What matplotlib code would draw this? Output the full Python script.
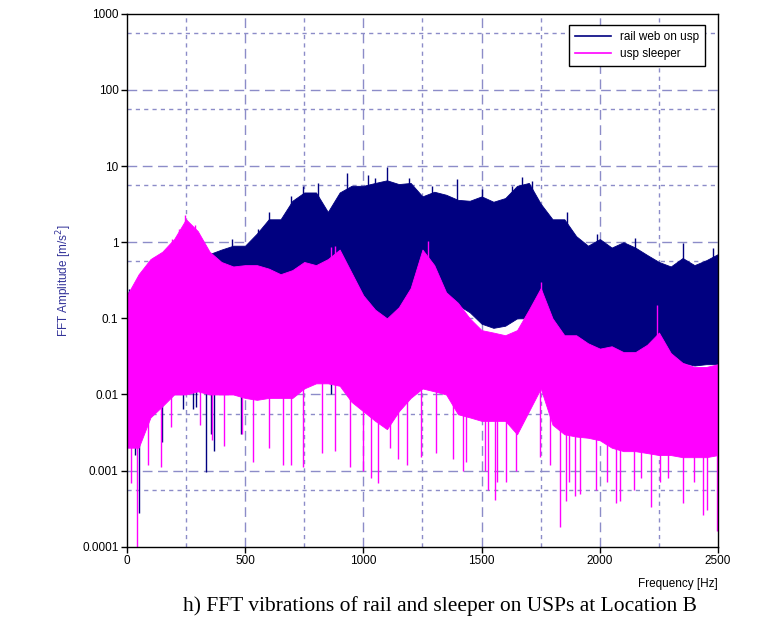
import numpy as np
import matplotlib
matplotlib.use("Agg")
import matplotlib.pyplot as plt

# ---------------- data ----------------
freq = list(range(0, 2501, 50))

rail_hi = [0.22, 0.2, 0.3, 0.4, 0.5, 0.6, 0.6, 0.7, 0.8, 0.9,
           0.9, 1.3, 2.0, 2.0, 3.5, 4.5, 4.5, 2.5, 4.5, 5.5,
           5.5, 6.0, 6.5, 5.8, 6.0, 4.0, 4.6, 4.2, 3.6, 3.5,
           4.0, 3.4, 3.8, 5.5, 6.0, 3.2, 2.0, 2.0, 1.2, 0.9,
           1.1, 0.85, 1.0, 0.85, 0.68, 0.55, 0.48, 0.62, 0.5, 0.58, 0.7]
rail_lo = [0.02, 0.01, 0.02, 0.03, 0.04, 0.05, 0.06, 0.08, 0.1, 0.15,
           0.2, 0.2, 0.22, 0.25, 0.22, 0.17, 0.15, 0.16, 0.15, 0.13,
           0.13, 0.11, 0.1, 0.12, 0.15, 0.18, 0.2, 0.18, 0.15, 0.12,
           0.085, 0.075, 0.08, 0.1, 0.1, 0.09, 0.085, 0.06, 0.05, 0.045,
           0.04, 0.04, 0.033, 0.032, 0.032, 0.03, 0.028, 0.026, 0.024, 0.025, 0.025]

sleeper_hi = [0.2, 0.38, 0.6, 0.75, 1.1, 2.0, 1.4, 0.75, 0.55, 0.48,
              0.5, 0.5, 0.45, 0.38, 0.43, 0.55, 0.5, 0.6, 0.8, 0.4,
              0.2, 0.13, 0.1, 0.14, 0.25, 0.8, 0.5, 0.22, 0.16, 0.1,
              0.07, 0.065, 0.06, 0.07, 0.13, 0.25, 0.1, 0.06, 0.06, 0.047,
              0.04, 0.043, 0.036, 0.036, 0.045, 0.065, 0.035, 0.026, 0.023, 0.023, 0.025]
sleeper_lo = [0.002, 0.002, 0.005, 0.007, 0.01, 0.01, 0.011, 0.01, 0.01, 0.01,
              0.009, 0.0085, 0.009, 0.009, 0.009, 0.012, 0.014, 0.014, 0.013, 0.008,
              0.006, 0.0045, 0.0035, 0.006, 0.009, 0.012, 0.011, 0.01, 0.0055, 0.005,
              0.0045, 0.0045, 0.0045, 0.003, 0.006, 0.012, 0.004, 0.003, 0.0028, 0.0027,
              0.0025, 0.002, 0.0018, 0.0018, 0.0017, 0.0016, 0.0016, 0.0015, 0.0015, 0.0015, 0.0016]

# individual spikes (frequency [Hz], amplitude)
rail_spike_f = [8, 30, 34, 53, 69, 150, 238, 278, 294, 334, 355, 367, 484, 527, 865,
                443, 556, 600, 696, 746, 809, 929, 1021, 1050, 1098, 1194, 1291,
                1395, 1500, 1629, 1670, 1713, 1860, 1990, 2147, 2352, 2480]
rail_spike_v = [0.24, 0.22, 0.0016, 0.00028, 0.0043, 0.0024, 0.0065, 0.0065, 0.0068,
                0.00096, 0.003, 0.0018, 0.003, 0.011, 0.01,
                1.1, 1.5, 2.5, 4.0, 5.5, 6.0, 8.0, 7.6, 7.0, 9.8, 7.0, 5.5,
                6.7, 5.0, 5.5, 7.1, 6.4, 2.5, 1.3, 1.15, 0.97, 0.85]

sleeper_spike_f = [18, 45, 90, 146, 186, 310, 359, 412, 487, 535, 600, 661, 696, 744,
                   825, 881, 945, 998, 1031, 1063, 1114, 1146, 1186, 1243, 1307, 1379,
                   1423, 1436, 1516, 1529, 1556, 1564, 1604, 1645, 1749, 1790, 1830,
                   1855, 1870, 1894, 1918, 1982, 2030, 2067, 2087, 2143, 2175, 2215,
                   2255, 2288, 2352, 2400, 2436, 2452, 2495,
                   116, 189, 221, 246, 288, 865, 881, 1272, 1750, 2242]
sleeper_spike_v = [0.00068, 0.0001, 0.0012, 0.0011, 0.0037, 0.004, 0.0025, 0.0021,
                   0.003, 0.0013, 0.002, 0.0012, 0.0012, 0.0011, 0.0017, 0.0018,
                   0.0011, 0.001, 0.0008, 0.00068, 0.002, 0.0014, 0.0012, 0.0015,
                   0.0017, 0.0014, 0.001, 0.0013, 0.001, 0.00055, 0.00041, 0.0007,
                   0.0007, 0.001, 0.0015, 0.0012, 0.00018, 0.0004, 0.0007, 0.00047,
                   0.0005, 0.00055, 0.0007, 0.00037, 0.0004, 0.00055, 0.0008, 0.00033,
                   0.0007, 0.0008, 0.00037, 0.0007, 0.00026, 0.0003, 0.00016,
                   0.63, 1.1, 1.5, 2.3, 1.7, 0.87, 0.9, 1.03, 0.3, 0.15]

x_ticks = [0, 500, 1000, 1500, 2000, 2500]
y_ticks = [0.0001, 0.001, 0.01, 0.1, 1, 10, 100, 1000]
y_tick_labels = ["0.0001", "0.001", "0.01", "0.1", "1", "10", "100", "1000"]

# ---------------- styling ----------------
plt.rcParams['font.family'] = ['Liberation Sans', 'DejaVu Sans']
navy = '#000080'
magenta = '#FF00FF'
gridc = '#8C8CC8'

fig = plt.figure(figsize=(7.78, 6.27), dpi=100)
ax = fig.add_axes([0.163, 0.128, 0.760, 0.850])
ax.set_yscale('log')
ax.set_xlim(0, 2500)
ax.set_ylim(0.0001, 1000)

# grids (behind data)
for yv in y_ticks[1:-1]:
    ax.axhline(yv, color=gridc, lw=1.0, ls=(0, (7, 4)), zorder=0)
for yv in y_ticks[:-1]:
    ax.axhline(yv * 10 ** 0.75, color=gridc, lw=1.0, ls=(0, (3, 3)), zorder=0)
for xv in x_ticks[1:-1]:
    ax.axvline(xv, color=gridc, lw=1.0, ls=(0, (7, 4)), zorder=0)
for xv in [250, 750, 1250, 1750, 2250]:
    ax.axvline(xv, color=gridc, lw=1.0, ls=(0, (3, 3)), zorder=0)

f = np.array(freq, dtype=float)


def draw(hi, lo, sf, sv, color, z):
    hi = np.array(hi); lo = np.array(lo)
    ax.fill_between(f, lo, hi, color=color, lw=0.6, edgecolor=color, zorder=z)
    sf = np.array(sf, dtype=float)
    mid = np.exp(0.5 * (np.log(np.interp(sf, f, hi)) + np.log(np.interp(sf, f, lo))))
    ax.vlines(sf, mid, sv, color=color, lw=1.0, zorder=z)


draw(rail_hi, rail_lo, rail_spike_f, rail_spike_v, navy, 2)
draw(sleeper_hi, sleeper_lo, sleeper_spike_f, sleeper_spike_v, magenta, 3)

# legend proxies
ax.plot([], [], color=navy, lw=1.2, label='rail web on usp')
ax.plot([], [], color=magenta, lw=1.2, label='usp sleeper')
leg = ax.legend(loc='upper right', bbox_to_anchor=(0.988, 0.99), fontsize=8.5,
                frameon=True, fancybox=False, edgecolor='black', framealpha=1,
                handlelength=3.0, borderpad=0.5, labelspacing=0.4)
leg.get_frame().set_linewidth(1.0)
leg.set_zorder(10)

ax.set_xticks(x_ticks)
ax.set_xticklabels([str(v) for v in x_ticks])
ax.set_yticks(y_ticks)
ax.set_yticklabels(y_tick_labels)
ax.yaxis.set_minor_locator(matplotlib.ticker.NullLocator())
ax.tick_params(axis='both', direction='out', length=4, width=1, labelsize=8.5,
               colors='black', pad=2)
for s in ax.spines.values():
    s.set_linewidth(1.0)
    s.set_zorder(11)

ax.set_ylabel('FFT Amplitude [m/s$^2$]', color='#333399', fontsize=8.5, labelpad=6)
fig.text(0.923, 0.068, 'Frequency [Hz]', ha='right', va='center', fontsize=8.5)
fig.text(0.566, 0.034, 'h) FFT vibrations of rail and sleeper on USPs at Location B',
         ha='center', va='center', fontsize=15.5, family=['Liberation Serif'])

fig.savefig('out.png', dpi=100)
